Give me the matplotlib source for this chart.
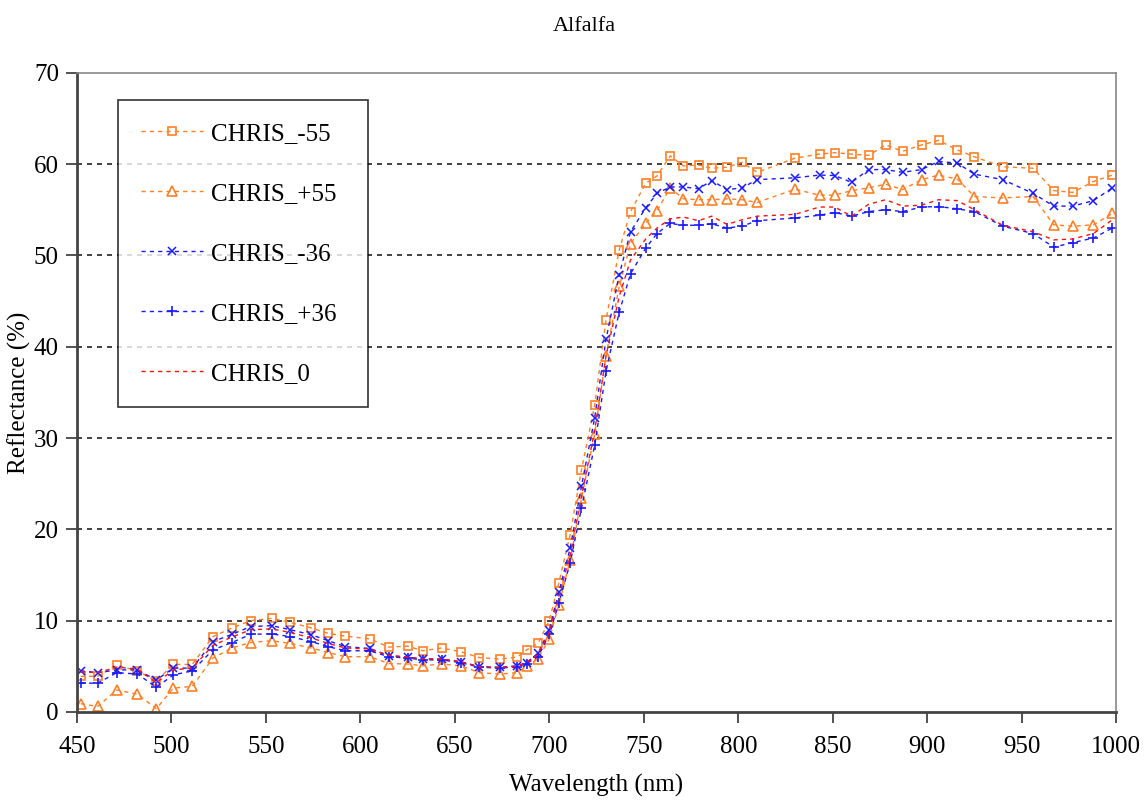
import matplotlib
matplotlib.use("Agg")
import matplotlib.pyplot as plt
import numpy as np

plt.rcParams['font.family'] = ['Liberation Serif', 'DejaVu Serif']

wavelength = [452, 461, 471, 482, 492, 501, 511, 522, 532, 542,
              553, 563, 574, 583, 592, 605, 615, 625, 633, 643,
              653, 663, 674, 683, 688, 694, 700, 705, 711, 717,
              724, 730, 737, 743, 751, 757, 764, 771, 779, 786,
              794, 802, 810, 830, 843, 851, 860, 869, 878, 887,
              897, 906, 916, 925, 940, 956, 967, 977, 988, 998]

chris_m55 = [3.9, 3.9, 5.1, 4.5, 3.4, 5.2, 5.2, 8.25, 9.2, 10.0,
             10.25, 9.8, 9.2, 8.6, 8.3, 8.0, 7.1, 7.2, 6.7, 7.0,
             6.6, 5.95, 5.8, 6.0, 6.8, 7.5, 10.0, 14.1, 19.4, 26.5,
             33.6, 42.9, 50.6, 54.8, 57.9, 58.7, 60.9, 59.8, 59.9, 59.55,
             59.65, 60.2, 59.1, 60.65, 61.1, 61.25, 61.1, 60.95, 62.1, 61.4,
             62.1, 62.6, 61.55, 60.8, 59.7, 59.55, 57.1, 56.9, 58.1, 58.8]

chris_p55 = [0.9, 0.6, 2.4, 1.95, 0.35, 2.6, 2.8, 5.9, 7.0, 7.6,
             7.8, 7.5, 7.0, 6.5, 6.05, 6.05, 5.3, 5.25, 5.05, 5.25,
             5.05, 4.3, 4.15, 4.3, 5.05, 5.8, 8.0, 11.7, 16.6, 23.4,
             30.4, 39.0, 46.6, 51.3, 53.5, 54.9, 57.4, 56.2, 56.1, 56.1,
             56.2, 56.1, 55.8, 57.25, 56.6, 56.6, 57.1, 57.4, 57.8, 57.2,
             58.3, 58.8, 58.35, 56.45, 56.3, 56.45, 53.35, 53.2, 53.35, 54.6]

chris_m36 = [4.5, 4.3, 4.6, 4.6, 3.5, 4.8, 4.8, 7.7, 8.5, 9.35,
             9.45, 9.0, 8.45, 7.8, 7.15, 6.95, 6.15, 6.0, 5.8, 5.8,
             5.5, 4.95, 4.9, 5.05, 5.4, 6.4, 9.0, 13.1, 17.9, 24.7,
             32.2, 40.8, 47.9, 52.6, 55.2, 56.8, 57.5, 57.5, 57.3, 58.2,
             57.2, 57.4, 58.3, 58.5, 58.8, 58.75, 58.0, 59.4, 59.4, 59.1,
             59.4, 60.3, 60.1, 58.9, 58.3, 56.8, 55.4, 55.4, 56.0, 57.4]

chris_p36 = [3.15, 3.15, 4.3, 4.15, 2.7, 4.05, 4.5, 6.8, 7.6, 8.5,
             8.55, 8.25, 7.7, 7.15, 6.7, 6.7, 6.05, 5.9, 5.7, 5.7,
             5.4, 4.9, 4.8, 4.95, 5.3, 6.05, 8.5, 11.9, 16.3, 22.3,
             29.2, 37.3, 43.8, 48.0, 50.8, 52.4, 53.5, 53.3, 53.3, 53.45,
             53.0, 53.2, 53.8, 54.1, 54.4, 54.7, 54.3, 54.8, 55.0, 54.8,
             55.3, 55.35, 55.1, 54.8, 53.2, 52.4, 50.9, 51.4, 51.9, 53.0]

chris_0 = [4.4, 4.3, 4.9, 4.7, 3.2, 4.6, 4.8, 7.3, 8.2, 9.0,
           9.1, 8.7, 8.1, 7.5, 7.0, 6.9, 6.2, 6.0, 5.8, 5.8,
           5.5, 4.95, 4.85, 5.0, 5.4, 6.3, 8.7, 12.6, 17.2, 23.6,
           30.8, 39.0, 45.5, 49.5, 51.8, 53.0, 54.0, 54.2, 53.8, 54.3,
           53.4, 53.9, 54.3, 54.5, 55.3, 55.3, 54.3, 55.6, 56.1, 55.4,
           55.5, 56.1, 56.0, 55.0, 53.3, 52.6, 51.7, 51.8, 52.4, 53.9]

orange = '#ff7f27'
blue = '#1a1aff'
red = '#ff1010'
dash = (0, (3, 3))

fig = plt.figure(figsize=(11.47, 8.09), dpi=100)
ax = fig.add_axes([0.0671, 0.12, 0.906, 0.79])

ax.plot(wavelength, chris_m55, color=orange, ls=dash, lw=1, marker='s', ms=6,
        mfc='none', mec=orange, mew=1.2, label='CHRIS_-55')
ax.plot(wavelength, chris_p55, color=orange, ls=dash, lw=1, marker='^', ms=6.5,
        mfc='none', mec=orange, mew=1.2, label='CHRIS_+55')
ax.plot(wavelength, chris_m36, color=blue, ls=dash, lw=1, marker='x', ms=6,
        mec=blue, mew=1.1, label='CHRIS_-36')
ax.plot(wavelength, chris_p36, color=blue, ls=dash, lw=1, marker='+', ms=7.5,
        mec=blue, mew=1.2, label='CHRIS_+36')
ax.plot(wavelength, chris_0, color=red, ls=dash, lw=1, label='CHRIS_0')

ax.set_xlim(450, 1000)
ax.set_ylim(0, 70)
ax.set_xticks(np.arange(450, 1001, 50))
ax.set_yticks(np.arange(0, 71, 10))
ax.tick_params(axis='both', labelsize=18, direction='out', length=8, width=1.2, color='#333333')
ax.tick_params(axis='x', pad=9)
ax.tick_params(axis='y', pad=5)

for y in range(10, 70, 10):
    ax.axhline(y, color='#222222', ls=(0, (3, 3)), lw=1.2, zorder=0)

for s in ['left', 'bottom']:
    ax.spines[s].set_color('#444444')
    ax.spines[s].set_linewidth(2)
for s in ['top', 'right']:
    ax.spines[s].set_color('#888888')
    ax.spines[s].set_linewidth(1.2)

ax.set_xlabel('Wavelength (nm)', fontsize=18, labelpad=12)
ax.set_ylabel('Reflectance (%)', fontsize=18, labelpad=2)
ax.set_title('Alfalfa', fontsize=16, pad=30, x=0.488)

leg = ax.legend(loc='upper left', bbox_to_anchor=(0.0395, 0.5, 0.2406, 0.458),
                mode='expand', borderaxespad=0,
                fontsize=18, frameon=True, fancybox=False, edgecolor='black',
                handlelength=2.5, handletextpad=0.3, labelspacing=1.5, borderpad=0.9)
leg.get_frame().set_linewidth(1.2)

fig.savefig('out.png', dpi=100)
